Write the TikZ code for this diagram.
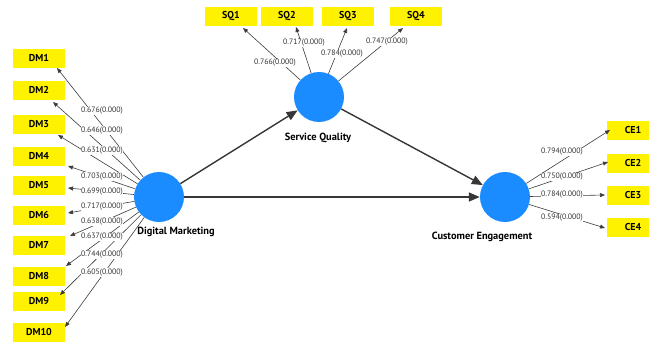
\documentclass[tikz,border=0pt]{standalone}
\usepackage{fontspec}
\setmainfont{PT Sans}
\usetikzlibrary{arrows.meta}
\definecolor{ind}{RGB}{255,242,0}
\definecolor{lat}{RGB}{26,140,255}
\definecolor{ln}{RGB}{60,60,60}
\tikzset{
  indbox/.style={fill=ind, draw=none, minimum width=52pt, minimum height=19pt, inner sep=0pt, font=\bfseries\fontsize{10}{11}\selectfont},
  latent/.style={circle, fill=lat, draw=none, minimum size=50pt, inner sep=0pt},
  latlbl/.style={font=\bfseries\fontsize{10.4}{11}\selectfont, inner sep=1pt},
  load/.style={draw=ln, line width=0.6pt, -{Triangle[length=5pt,width=4pt]}},
  path/.style={draw=ln!90!black, line width=1.4pt, -{Triangle[length=11pt,width=9pt]}},
  val/.style={fill=white, inner sep=0.5pt, font=\fontsize{7.8}{8}\selectfont, text=black!80}
}
\begin{document}
\begin{tikzpicture}[x=1pt,y=-1pt]
\useasboundingbox (0,0) rectangle (649,343);
\clip (0,0) rectangle (649,343);
% latent variables
\node[latent] (dm) at (159,197) {};
\node[latent] (sq) at (319,97) {};
\node[latent] (ce) at (505,197) {};
\node[latlbl] (dml) at (176,232) {Digital Marketing};
\node[latlbl] (sql) at (318,138) {Service Quality};
\node[latlbl] (cel) at (482,237) {Customer Engagement};
% indicators
\foreach \i/\y in {1/58,2/90,3/124,4/156,5/185,6/215,7/245,8/276,9/301,10/332}
  \node[indbox] (DM\i) at (39,\y) {DM\i};
\foreach \i/\x in {1/231,2/287,3/348,4/416}
  \node[indbox] (SQ\i) at (\x,16.5) {SQ\i};
\foreach \i/\y in {1/130,2/163,3/195,4/227}
  \node[indbox] (CE\i) at (633,\y) {CE\i};
% arrow tips
\coordinate (tdm1) at (57,68);
\coordinate (tdm2) at (53,102);
\coordinate (tdm3) at (58,135);
\coordinate (tdm4) at (68,166);
\coordinate (tdm5) at (68,188);
\coordinate (tdm6) at (68,213);
\coordinate (tdm7) at (70,236);
\coordinate (tdm8) at (66,266);
\coordinate (tdm9) at (60,295);
\coordinate (tdm10) at (65,327);
\coordinate (tsq1) at (243,28);
\coordinate (tsq2) at (296,27);
\coordinate (tsq3) at (347,28);
\coordinate (tsq4) at (403,28);
\coordinate (tce1) at (610,130);
\coordinate (tce2) at (608,162);
\coordinate (tce3) at (605,195);
\coordinate (tce4) at (605,228);
% loadings
\foreach \i in {1,...,10} \draw[load] (dm) -- (tdm\i);
\foreach \i in {1,...,4} \draw[load] (sq) -- (tsq\i);
\foreach \i in {1,...,4} \draw[load] (ce) -- (tce\i);
% loading values
\node[val] (v1) at (102,111) {0.676(0.000)};
\node[val] (v2) at (102,130.5) {0.646(0.000)};
\node[val] (v3) at (102,150.5) {0.631(0.000)};
\node[val] (v4) at (102,176.5) {0.703(0.000)};
\node[val] (v5) at (102,191.5) {0.699(0.000)};
\node[val] (v6) at (102,206.5) {0.717(0.000)};
\node[val] (v7) at (102,221.5) {0.638(0.000)};
\node[val] (v8) at (102,237) {0.637(0.000)};
\node[val] (v9) at (102,255) {0.744(0.000)};
\node[val] (v10) at (102,272.5) {0.605(0.000)};
\node[val] (s1) at (275,63) {0.766(0.000)};
\node[val] (s2) at (304,43) {0.717(0.000)};
\node[val] (s3) at (342,54) {0.784(0.000)};
\node[val] (s4) at (387,42) {0.747(0.000)};
\node[val] (c1) at (562,152) {0.794(0.000)};
\node[val] (c2) at (562,177) {0.750(0.000)};
\node[val] (c3) at (562,195) {0.784(0.000)};
\node[val] (c4) at (562,218) {0.594(0.000)};
% structural paths
\draw[path] (dm) -- (sq);
\draw[path] (dm) -- (ce);
\draw[path] (sq) -- (ce);
\end{tikzpicture}
\end{document}
